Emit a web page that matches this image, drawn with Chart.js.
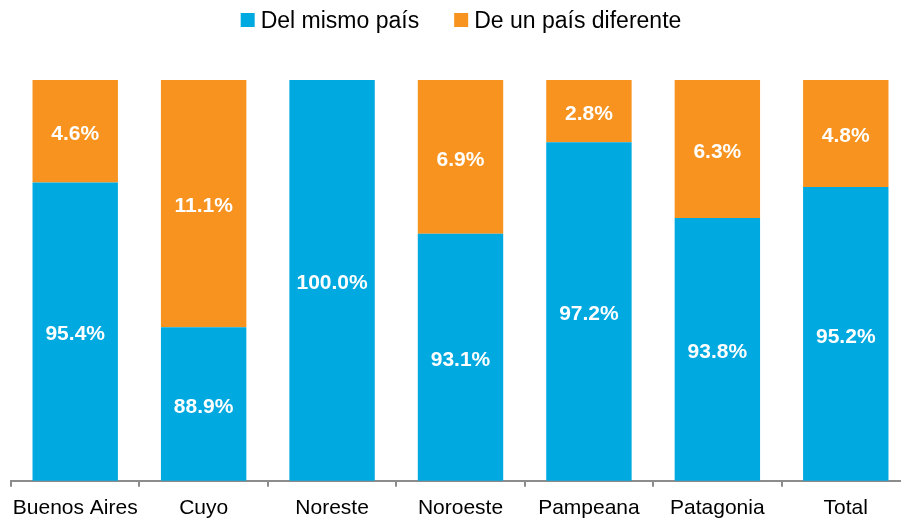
<!DOCTYPE html>
<html>
<head>
<meta charset="utf-8">
<script src="https://cdn.jsdelivr.net/npm/chart.js@4.4.0/dist/chart.umd.min.js"></script>
<style>
  html, body { margin: 0; padding: 0; background: #fff; overflow: hidden; }
  #wrap { width: 910px; height: 518px; }
</style>
</head>
<body>
<div id="wrap"><canvas id="resultChart"></canvas></div>
<script>
const regiones = ['Buenos Aires', 'Cuyo', 'Noreste', 'Noroeste', 'Pampeana', 'Patagonia', 'Total'];
const mismoPais = [95.4, 88.9, 100.0, 93.1, 97.2, 93.8, 95.2];
const paisDiferente = [4.6, 11.1, 0.0, 6.9, 2.8, 6.3, 4.8];

const FONT = '"Liberation Sans", Arial, sans-serif';

// white percentage labels in the middle of each visible segment
const segmentLabels = {
  id: 'segmentLabels',
  afterDatasetsDraw(chart) {
    const ctx = chart.ctx;
    const area = chart.chartArea;
    ctx.save();
    ctx.fillStyle = '#ffffff';
    ctx.font = 'bold 21px ' + FONT;
    ctx.textAlign = 'center';
    ctx.textBaseline = 'middle';
    chart.data.datasets.forEach((ds, i) => {
      const meta = chart.getDatasetMeta(i);
      meta.data.forEach((bar, j) => {
        const v = ds.data[j];
        if (!v) return;
        const top = Math.max(bar.y, area.top);
        const bottom = Math.min(bar.base, area.bottom);
        ctx.fillText(v.toFixed(1) + '%', bar.x, (top + bottom) / 2 + 3);
      });
    });
    ctx.restore();
  }
};

// legend drawn by hand: small squares, tight gap before the text
const topLegend = {
  id: 'topLegend',
  afterDraw(chart) {
    const ctx = chart.ctx;
    const box = 14, gap = 6, between = 35, y = 20;
    ctx.save();
    ctx.font = '23px ' + FONT;
    ctx.textBaseline = 'middle';
    const items = chart.data.datasets.map(ds => ({
      text: ds.label, color: ds.backgroundColor, w: ctx.measureText(ds.label).width
    }));
    let total = 0;
    items.forEach((it, i) => { total += box + gap + it.w + (i ? between : 0); });
    let x = 461 - total / 2;
    items.forEach(it => {
      ctx.fillStyle = it.color;
      ctx.fillRect(x, y - box / 2, box, box);
      ctx.fillStyle = '#000';
      ctx.textAlign = 'left';
      ctx.fillText(it.text, x + box + gap, y + 2);
      x += box + gap + it.w + between;
    });
    ctx.restore();
  }
};

const ctx = document.getElementById('resultChart').getContext('2d');
new Chart(ctx, {
  type: 'bar',
  data: {
    labels: regiones,
    datasets: [
      {
        label: 'Del mismo país',
        data: mismoPais,
        backgroundColor: '#00A9E0',
        barPercentage: 0.665,
        categoryPercentage: 1.0
      },
      {
        label: 'De un país diferente',
        data: paisDiferente,
        backgroundColor: '#F7931E',
        barPercentage: 0.665,
        categoryPercentage: 1.0
      }
    ]
  },
  options: {
    responsive: true,
    maintainAspectRatio: false,
    animation: false,
    layout: { padding: { left: 11, right: 0, top: 80, bottom: -12 } },
    plugins: {
      legend: { display: false },
      tooltip: { enabled: false }
    },
    scales: {
      x: {
        stacked: true,
        border: { display: true, color: '#8c8c8c', width: 2 },
        grid: {
          display: true,
          offset: true,
          drawOnChartArea: false,
          drawTicks: true,
          tickLength: 6,
          color: '#8c8c8c',
          lineWidth: 2
        },
        ticks: {
          color: '#000',
          padding: 9,
          maxRotation: 0,
          minRotation: 0,
          autoSkip: false,
          font: { size: 21, family: FONT }
        }
      },
      y: {
        stacked: true,
        display: false,
        min: 82,
        max: 100
      }
    }
  },
  plugins: [segmentLabels, topLegend]
});
</script>
</body>
</html>
